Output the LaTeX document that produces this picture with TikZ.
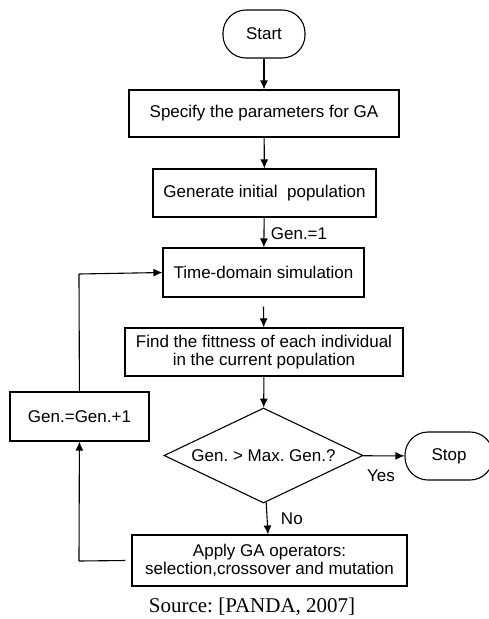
\documentclass[tikz,border=0pt]{standalone}
\usepackage{fontspec}
\setmainfont{Liberation Sans}
\newfontfamily\capfont{Liberation Serif}
\usetikzlibrary{shapes.geometric,arrows.meta}
\frenchspacing
\begin{document}
\begin{tikzpicture}[x=1pt,y=-1pt,
  font=\fontsize{17}{19.5}\selectfont,
  box/.style={draw,line width=1.1pt,inner sep=0pt,align=center},
  term/.style={draw,line width=1.1pt,rounded corners=23pt,inner sep=0pt},
  arr/.style={line width=1.1pt,-{Latex[length=9pt,width=8pt]}},
  ln/.style={line width=1.1pt}]
\useasboundingbox (0,0) rectangle (489,619);
\node[term,minimum width=82pt,minimum height=48pt] (start) at (264,34) {Start};
\node[box,minimum width=270pt,minimum height=47pt] (spec) at (264,113.5) {Specify the parameters for GA};
\node[box,minimum width=223pt,minimum height=48pt] (gen) at (264.5,193) {Generate initial\ \ population};
\node[box,minimum width=201pt,minimum height=49pt] (time) at (263.5,272.5) {Time-domain simulation};
\node[box,minimum width=278pt,minimum height=48pt] (find) at (264,352) {Find the fittness of each individual\\[-2pt]in the current population};
\node[draw,line width=1.1pt,diamond,aspect=2.1,inner sep=0pt,minimum width=199pt,minimum height=95pt] (dec) at (263.5,455.5) {\frenchspacing Gen. > Max. Gen.?};
\node[term,minimum width=88pt,minimum height=48pt] (stop) at (449,456) {Stop};
\node[box,minimum width=275pt,minimum height=51pt] (apply) at (269.5,560.5) {Apply GA operators:\\[-2pt]selection,crossover and mutation};
\node[box,minimum width=139pt,minimum height=49pt] (genp) at (79.5,416.5) {Gen.=Gen.+1};
\node[font=\capfont\fontsize{21}{23}\selectfont] (src) at (252,607) {Source: [PANDA, 2007]};
\coordinate (lx) at (79,274);
\coordinate (ly) at (79,561);
\draw[arr] (start) -- (spec);
\draw[arr] (spec) -- (gen);
\draw[arr] (gen) -- node[right,xshift=3pt,yshift=-1pt] (g1) {Gen.=1} (time);
\draw[arr] ([yshift=-9pt]time.south) -- (find);
\draw[arr] (find) -- (dec);
\draw[arr] (dec) -- (stop);
\node (yes) at (381,476) {Yes};
\draw[arr] (dec) -- node[right,xshift=10pt] (no) {No} (apply);
\draw[ln] ([xshift=-6pt]apply.west) -- (ly);
\draw[arr] (ly) -- (genp);
\draw[ln] (genp) -- (lx);
\draw[arr] (lx) -- (time.west);
\end{tikzpicture}
\end{document}
